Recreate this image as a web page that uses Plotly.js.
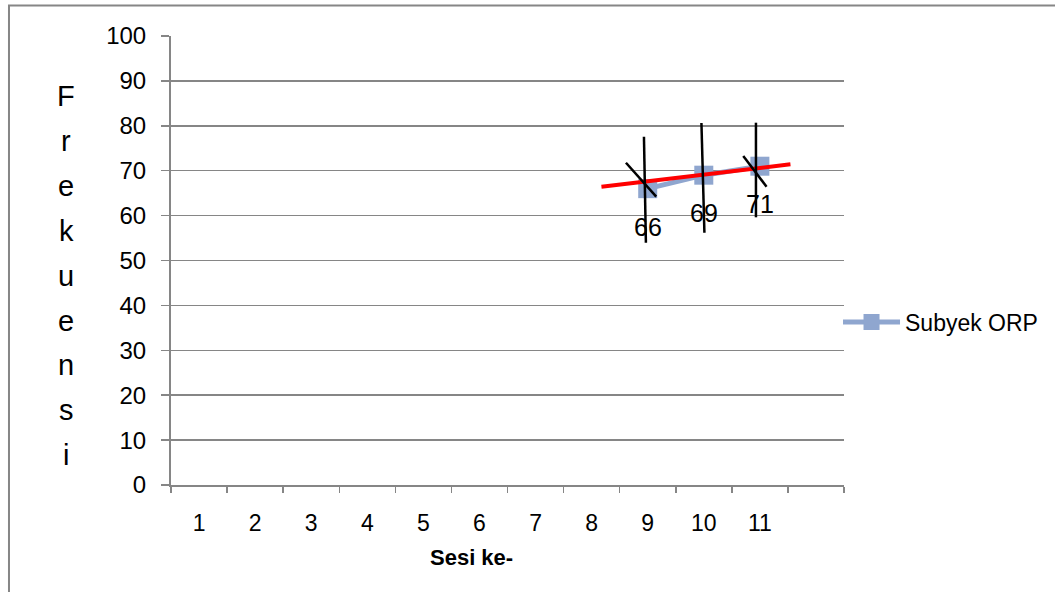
<!DOCTYPE html>
<html>
<head>
<meta charset="utf-8">
<script src="https://cdn.plot.ly/plotly-3.0.1.min.js"></script>
<style>
  html, body { margin: 0; padding: 0; background: #ffffff; }
  #chart { width: 1055px; height: 592px; }
</style>
</head>
<body>
<div id="chart"></div>
<script>
// ---- data ----
const sessionLabels = ['1','2','3','4','5','6','7','8','9','10','11'];
const seriesName = 'Subyek ORP';
const seriesX = [9, 10, 11];
const seriesY = [66, 69, 71];

// hand-drawn red trend stroke (data coordinates)
const trendX = [8.175, 11.545];
const trendY = [66.44, 71.43];

// hand-drawn black strokes (data coordinates), one pair per stroke
const strokeX = [[8.933, 8.968], [9.958, 10.011], [10.930, 10.930], [8.612, 9.152], [10.704, 11.119]];
const strokeY = [[77.57, 53.96], [80.62, 56.19], [80.69, 59.62], [71.78, 64.21], [73.27, 66.44]];

const yTitle = 'Frekuensi';
const xTitle = 'Sesi ke-';

// ---- build ----
const gray = '#868686';
const seriesColor = 'rgb(143,166,207)';
const font = 'Liberation Sans, Arial, sans-serif';

const nSlots = sessionLabels.length + 1;
const boundaries = [];
for (let i = 0; i <= nSlots; i++) boundaries.push(0.5 + i);
const tickVals = sessionLabels.map((_, i) => i + 1);

const traces = [];
traces.push({
  type: 'scatter', mode: 'lines+markers', name: seriesName,
  x: seriesX, y: seriesY,
  line: { color: seriesColor, width: 5 },
  marker: { symbol: 'square', size: 19, color: seriesColor },
  hoverinfo: 'x+y'
});
traces.push({
  type: 'scatter', mode: 'lines', x: trendX, y: trendY, showlegend: false,
  line: { color: '#ff0000', width: 4 }, hoverinfo: 'skip'
});
strokeX.forEach((sx, i) => {
  traces.push({
    type: 'scatter', mode: 'lines', x: sx, y: strokeY[i], showlegend: false,
    line: { color: '#000000', width: 2.5 }, hoverinfo: 'skip'
  });
});

const annotations = [];
seriesX.forEach((x, i) => {
  annotations.push({
    x: x, y: seriesY[i], xref: 'x', yref: 'y', text: String(seriesY[i]),
    showarrow: false, yshift: -38, font: { family: font, size: 25, color: '#000' }
  });
});
const letters = yTitle.split('');
const plotTop = 36, plotH = 449;
letters.forEach((ch, k) => {
  const py = 96 + k * 44.9;
  annotations.push({
    x: -0.1556, y: (plotTop + plotH - py) / plotH, xref: 'paper', yref: 'paper',
    text: ch, showarrow: false, xanchor: 'center', yanchor: 'middle',
    font: { family: font, size: 29, color: '#000' }
  });
});
annotations.push({
  x: (472 - 171) / 675, y: (485 - 557) / 449, xref: 'paper', yref: 'paper',
  text: '<b>' + xTitle + '</b>', showarrow: false, xanchor: 'center', yanchor: 'middle',
  font: { family: font, size: 22, color: '#000' }
});

const layout = {
  width: 1055, height: 592,
  margin: { l: 171, r: 209, t: 36, b: 107 },
  paper_bgcolor: '#ffffff', plot_bgcolor: '#ffffff',
  font: { family: font, color: '#000' },
  showlegend: true,
  legend: {
    x: 1.0 - 6 / 675, xanchor: 'left', y: 0.363, yanchor: 'middle',
    font: { family: font, size: 23, color: '#000' },
    itemwidth: 57, bgcolor: 'rgba(0,0,0,0)'
  },
  xaxis: {
    range: [0.5, nSlots + 0.5], tickmode: 'array', tickvals: tickVals, ticktext: sessionLabels,
    ticks: '', showgrid: false, zeroline: false,
    showline: true, linecolor: gray, linewidth: 2,
    tickfont: { family: font, size: 23, color: '#000' },
    ticklabelstandoff: 16,
    minor: { tickmode: 'array', tickvals: boundaries, ticks: 'outside', ticklen: 6, tickcolor: gray, tickwidth: 1.5, showgrid: false },
    fixedrange: true
  },
  yaxis: {
    range: [0, 100], tickmode: 'linear', tick0: 0, dtick: 10,
    ticks: 'outside', ticklen: 8, tickcolor: gray, tickwidth: 1.5,
    showgrid: true, gridcolor: gray, gridwidth: 1.5, zeroline: false,
    showline: true, linecolor: gray, linewidth: 2,
    tickfont: { family: font, size: 24, color: '#000' },
    ticklabelstandoff: 10,
    fixedrange: true
  },
  annotations: annotations,
  shapes: [{
    type: 'rect', xref: 'paper', yref: 'paper',
    x0: (8.5 - 171) / 675, x1: 1.4, y0: -0.4, y1: (485 - 5.5) / 449,
    line: { color: gray, width: 2 }, fillcolor: 'rgba(0,0,0,0)', layer: 'below'
  }]
};

Plotly.newPlot('chart', traces, layout, { displayModeBar: false, staticPlot: true });
</script>
</body>
</html>
